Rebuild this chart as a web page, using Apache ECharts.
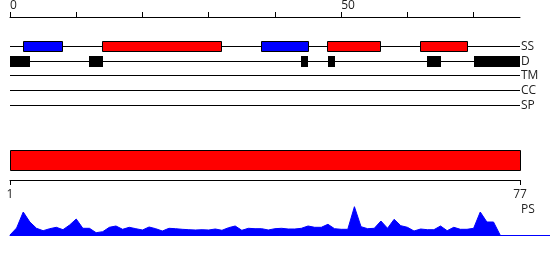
<!DOCTYPE html>
<html>
<head>
<meta charset="utf-8">
<script src="https://cdn.jsdelivr.net/npm/echarts@6/dist/echarts.min.js"></script>
<style>html,body{margin:0;padding:0;background:#fff}#c{width:550px;height:260px}</style>
</head>
<body>
<div id="c"></div>
<script>
// ---- data ----
var trackNames = ['SS', 'D', 'TM', 'CC', 'SP'];
var seqLength = 77;
var topTicks = [0, 10, 20, 30, 40, 50, 60, 70];
var topLabels = [0, 50];
var bottomLabels = [1, 77];
// secondary structure segments: [start, end, kind]
var ssSegments = [
  [2, 8, 'strand'], [14, 32, 'helix'], [38, 45, 'strand'], [48, 56, 'helix'], [62, 69, 'helix']
];
// disorder segments: [start, end]
var disorderSegments = [[0, 3], [12, 14], [44, 45], [48, 49], [63, 65], [70, 77]];
var chainRange = [1, 77];
var psPositions = [0,1,2,3,4,5,6,7,8,9,10,11,12,13,14,15,16,17,18,19,20,21,22,23,24,25,26,27,28,29,30,31,32,33,34,35,36,37,38,39,40,41,42,43,44,45,46,47,48,49,50,51,52,53,54,55,56,57,58,59,60,61,62,63,64,65,66,67,68,69,70,71,72,73,74];
var psValues = [0,7,23,13,6.7,4.3,6.3,7.7,5.3,10,16,6.7,6.7,2.3,3.3,7.7,9,5.7,7.7,6.3,5,8,6.3,4,6.7,6.3,5.7,5.3,5,5.3,5,6,4.7,7.3,9,4.7,6.7,6.3,6.3,5,6.3,6.7,6,6,6.7,9,7.7,7.7,10.7,6.3,5.7,5.7,28.3,8.3,6.3,6.7,14,6.7,15.7,9.3,7.7,4,6,5.3,5.3,9,4.3,7.7,5.7,5.7,6.7,23,13,13,0];

// ---- chart ----
var FONT = '"Open Sans", "Noto Sans", sans-serif';
var chart = echarts.init(document.getElementById('c'), null, {renderer: 'canvas'});

var trackRows = trackNames.map(function (n, i) { return i + 2; });
function crisp(v) { return Math.round(v - 0.5) + 0.5; }

var trackLineData = trackNames.map(function (n, i) { return [0, seqLength, i + 2]; });
var ssData = ssSegments.map(function (s) { return [s[0], s[1], 2, s[2]]; });
var dData = disorderSegments.map(function (s) { return [s[0], s[1], 3]; });
var psData = psPositions.map(function (p, i) { return [p, psValues[i]]; });

var colorOf = {helix: '#ff0000', strand: '#0000ff'};

var option = {
  animation: false,
  textStyle: {fontFamily: FONT},
  grid: [
    {left: 10, right: 30, top: 15, height: 105},
    {left: 10, right: 30, top: 150, height: 30},
    {left: 10, right: 0, top: 200, height: 35}
  ],
  xAxis: [
    {
      gridIndex: 0, type: 'value', position: 'top', min: 0, max: seqLength,
      axisLine: {show: true, lineStyle: {color: '#000', width: 1}},
      axisTick: {show: true, length: 5, customValues: topTicks, lineStyle: {color: '#000'}},
      axisLabel: {show: true, customValues: topLabels, align: 'left', margin: 5,
        fontSize: 12, color: '#222', fontFamily: FONT},
      splitLine: {show: false}
    },
    {
      gridIndex: 1, type: 'value', position: 'bottom', min: chainRange[0], max: chainRange[1],
      axisLine: {show: true, lineStyle: {color: '#000', width: 1}},
      axisTick: {show: true, length: 5, customValues: bottomLabels, lineStyle: {color: '#000'}},
      axisLabel: {show: true, customValues: bottomLabels, margin: 9,
        fontSize: 12, color: '#222', fontFamily: FONT},
      splitLine: {show: false}
    },
    {
      gridIndex: 2, type: 'value', min: 0, max: 540 * seqLength / 510,
      axisLine: {show: true, onZero: false, lineStyle: {color: '#0000ff', width: 1}},
      axisTick: {show: false}, axisLabel: {show: false}, splitLine: {show: false}
    }
  ],
  yAxis: [
    {
      gridIndex: 0, type: 'value', position: 'right', inverse: true, min: 0, max: 7, interval: 1,
      axisLine: {show: false}, axisTick: {show: false}, splitLine: {show: false},
      axisLabel: {show: true, customValues: trackRows, margin: 1, fontSize: 12, color: '#222', fontFamily: FONT,
        formatter: function (v) { return trackNames[v - 2] || ''; }}
    },
    {
      gridIndex: 1, type: 'value', min: 0, max: 3, show: false
    },
    {
      gridIndex: 2, type: 'value', min: 0, max: 35, show: false
    }
  ],
  graphic: [
    {type: 'text', left: 521, top: 204, style: {text: 'PS', font: '12px ' + FONT, fill: '#222'}}
  ],
  series: [
    {
      type: 'custom', xAxisIndex: 0, yAxisIndex: 0, data: trackLineData, z: 1,
      renderItem: function (params, api) {
        var a = api.coord([api.value(0), api.value(2)]);
        var b = api.coord([api.value(1), api.value(2)]);
        var y = crisp(a[1]);
        return {type: 'line', shape: {x1: a[0], y1: y, x2: b[0], y2: y},
          style: {stroke: '#000', lineWidth: 1}};
      }
    },
    {
      type: 'custom', xAxisIndex: 0, yAxisIndex: 0, data: ssData, z: 2,
      encode: {x: [0, 1], y: 2},
      renderItem: function (params, api) {
        var a = api.coord([api.value(0), api.value(2)]);
        var b = api.coord([api.value(1), api.value(2)]);
        var kind = ssData[params.dataIndex][3];
        var x1 = crisp(a[0]), x2 = crisp(b[0]);
        var yc = crisp(a[1]);
        return {type: 'rect', shape: {x: x1, y: yc - 5, width: x2 - x1, height: 10},
          style: {fill: colorOf[kind], stroke: '#000', lineWidth: 1}};
      }
    },
    {
      type: 'custom', xAxisIndex: 0, yAxisIndex: 0, data: dData, z: 2,
      encode: {x: [0, 1], y: 2},
      renderItem: function (params, api) {
        var a = api.coord([api.value(0), api.value(2)]);
        var b = api.coord([api.value(1), api.value(2)]);
        var x1 = Math.round(a[0]), x2 = Math.round(b[0]);
        var yc = Math.round(a[1]);
        return {type: 'rect', shape: {x: x1, y: yc - 5, width: x2 - x1, height: 11},
          style: {fill: '#000'}};
      }
    },
    {
      type: 'custom', xAxisIndex: 1, yAxisIndex: 1, data: [[chainRange[0], chainRange[1]]],
      encode: {x: [0, 1]},
      renderItem: function (params, api) {
        var a = api.coord([api.value(0), 3]);
        var b = api.coord([api.value(1), 1]);
        var x1 = crisp(a[0]), x2 = crisp(b[0]);
        var y1 = crisp(a[1]), y2 = crisp(b[1]);
        return {type: 'rect', shape: {x: x1, y: y1, width: x2 - x1, height: y2 - y1},
          style: {fill: '#ff0000', stroke: '#000', lineWidth: 1}};
      }
    },
    {
      type: 'line', xAxisIndex: 2, yAxisIndex: 2, data: psData, symbol: 'none',
      lineStyle: {color: '#0000ff', width: 1}, itemStyle: {color: '#0000ff'},
      areaStyle: {color: '#0000ff', opacity: 1}
    }
  ]
};
chart.setOption(option);
</script>
</body>
</html>
